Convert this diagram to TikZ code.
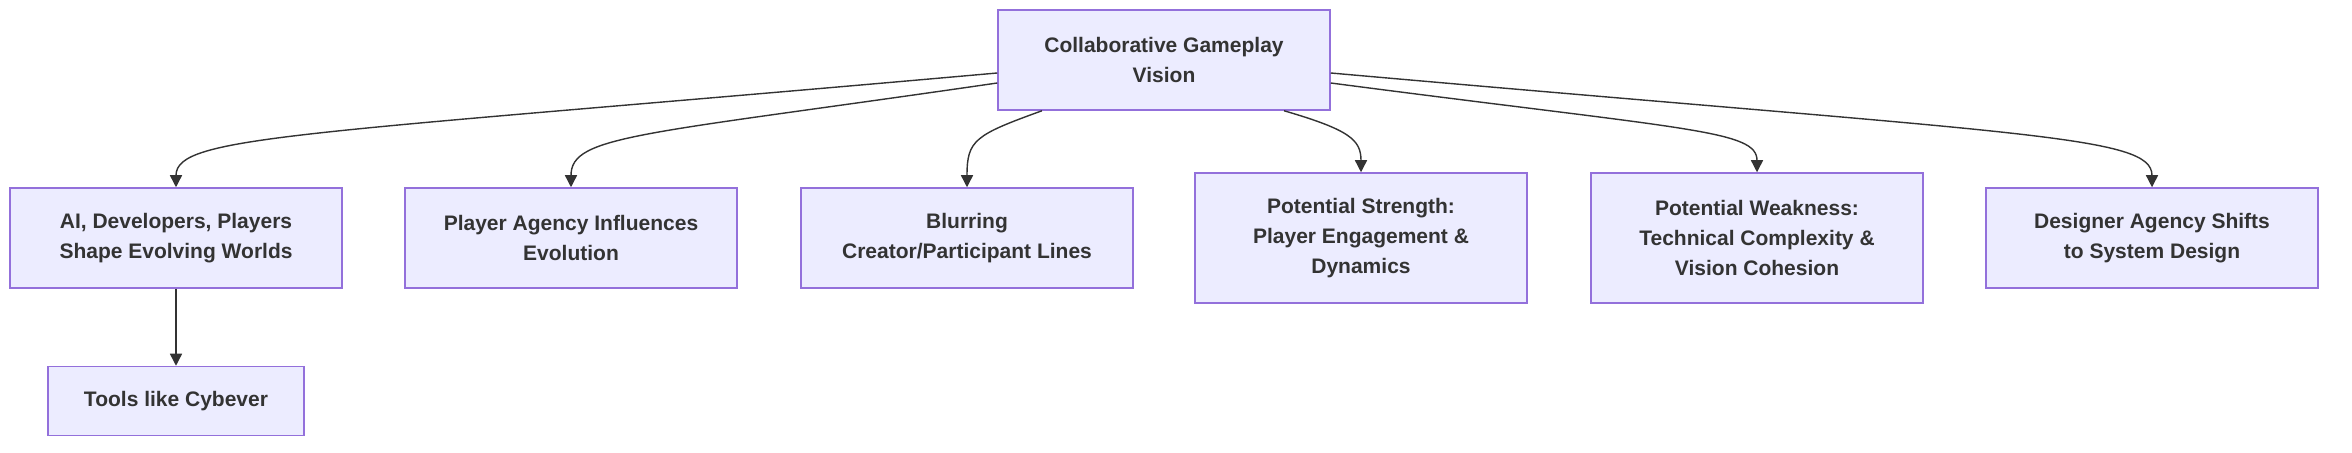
\documentclass[tikz,border=0pt]{standalone}
\usepackage{fontspec}
\setmainfont{Liberation Sans}
\usetikzlibrary{arrows.meta}
\definecolor{nodefill}{HTML}{ECECFF}
\definecolor{nodeborder}{HTML}{9370DB}
\definecolor{txt}{HTML}{333333}
\definecolor{edge}{HTML}{333333}
\begin{document}
\begin{tikzpicture}[x=0.5pt,y=-0.5pt,
  box/.style={draw=nodeborder,fill=nodefill,line width=0.75pt,text=txt,
    font=\bfseries\fontsize{10.5pt}{15pt}\selectfont,align=center,
    minimum width=166pt,inner sep=0pt},
  two/.style={box,minimum height=50pt},
  three/.style={box,minimum height=65pt},
  conn/.style={draw=edge,line width=0.7pt,-{Triangle[length=6pt,width=6pt]}}]
\useasboundingbox[fill=white] (0,0) rectangle (2352,453);
\node[two] (top) at (1164,60) {Collaborative Gameplay\\Vision};
\node[two] (n1) at (176,238) {AI, Developers, Players\\Shape Evolving Worlds};
\node[two] (n2) at (571,238) {Player Agency Influences\\Evolution};
\node[two] (n3) at (967,238) {Blurring\\Creator/Participant Lines};
\node[three] (n4) at (1361,238) {Potential Strength:\\Player Engagement \&\\Dynamics};
\node[three] (n5) at (1757,238) {Potential Weakness:\\Technical Complexity \&\\Vision Cohesion};
\node[two] (n6) at (2152,238) {Designer Agency Shifts\\to System Design};
\node[box,minimum width=128pt,minimum height=34.5pt] (tools) at (176,401) {Tools like Cybever};
\draw[conn] ([yshift=-6.5pt]top.west) .. controls (300,135) and (176,135) .. (n1.north);
\draw[conn] ([yshift=-11.5pt]top.west) .. controls (640,135) and (571,135) .. (n2.north);
\draw[conn] ([xshift=-61pt]top.south) .. controls (975,135) and (967,140) .. (n3.north);
\draw[conn] ([xshift=60pt]top.south) .. controls (1350,130) and (1361,140) .. (n4.north);
\draw[conn] ([yshift=-11.5pt]top.east) .. controls (1690,130) and (1757,130) .. (n5.north);
\draw[conn] ([yshift=-6.5pt]top.east) .. controls (2030,135) and (2152,135) .. (n6.north);
\draw[conn] (n1.south) -- (tools.north);
\end{tikzpicture}
\end{document}
